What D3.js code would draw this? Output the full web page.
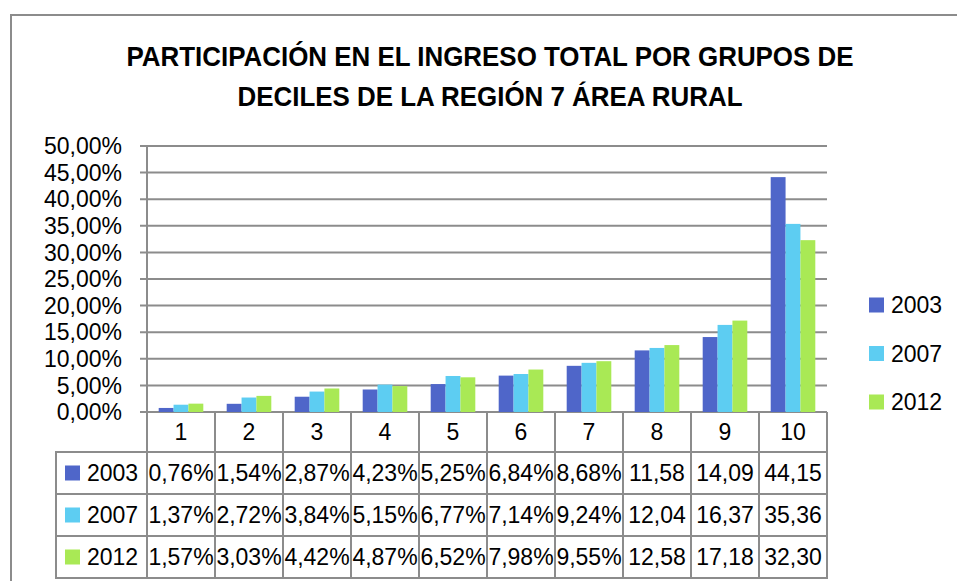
<!DOCTYPE html>
<html lang="es">
<head>
    <meta charset="UTF-8">
    <title>Participación en el ingreso</title>
    <script src="https://cdn.jsdelivr.net/npm/d3@7"></script>
    <style>
        body { margin: 0; background: #fff; }
        text { font-family: "Liberation Sans", Arial, sans-serif; fill: #000; }
    </style>
</head>
<body>
<svg width="957" height="581"></svg>
<script>
    var deciles = ["1", "2", "3", "4", "5", "6", "7", "8", "9", "10"];
    var years = ["2003", "2007", "2012"];
    var v2003 = [0.76, 1.54, 2.87, 4.23, 5.25, 6.84, 8.68, 11.58, 14.09, 44.15];
    var v2007 = [1.37, 2.72, 3.84, 5.15, 6.77, 7.14, 9.24, 12.04, 16.37, 35.36];
    var v2012 = [1.57, 3.03, 4.42, 4.87, 6.52, 7.98, 9.55, 12.58, 17.18, 32.30];
    var yTicks = [0, 5, 10, 15, 20, 25, 30, 35, 40, 45, 50];
    var titleLines = ["PARTICIPACIÓN EN EL INGRESO TOTAL POR GRUPOS DE",
                      "DECILES DE LA REGIÓN 7 ÁREA RURAL"];

    var series = [
        {year: "2003", values: v2003, color: "#4f66c9"},
        {year: "2007", values: v2007, color: "#5dcdf2"},
        {year: "2012", values: v2012, color: "#a9e955"}
    ];

    var svg = d3.select("svg");
    var grid = "#8c8c8c";

    // outer chart border (only top and left visible)
    svg.append("path")
        .attr("d", "M11,581V15H957")
        .attr("fill", "none")
        .attr("stroke", grid)
        .attr("stroke-width", 2);

    // title
    svg.selectAll(".title")
        .data(titleLines)
        .enter().append("text")
        .attr("class", "title")
        .attr("x", 490)
        .attr("y", function (d, i) { return 66 + i * 40; })
        .attr("text-anchor", "middle")
        .attr("font-size", 28)
        .attr("font-weight", "bold")
        .attr("textLength", function (d, i) { return i === 0 ? 727 : 505; })
        .attr("lengthAdjust", "spacingAndGlyphs")
        .text(function (d) { return d; });

    var pLeft = 147, pRight = 827, pTop = 146, pBottom = 412;

    var x = d3.scaleBand().domain(deciles).range([pLeft, pRight]);
    var bw = x.bandwidth();
    var x1 = d3.scaleBand().domain(years).range([bw * 0.172, bw * 0.828]);
    var y = d3.scaleLinear().domain([0, 50]).range([pBottom, pTop]);

    // gridlines + ticks
    svg.selectAll(".grid")
        .data(yTicks)
        .enter().append("line")
        .attr("x1", pLeft - 7)
        .attr("x2", pRight)
        .attr("y1", function (d) { return y(d); })
        .attr("y2", function (d) { return y(d); })
        .attr("stroke", grid)
        .attr("stroke-width", 2);

    svg.selectAll(".ylab")
        .data(yTicks)
        .enter().append("text")
        .attr("x", 122)
        .attr("y", function (d) { return y(d); })
        .attr("dy", "0.36em")
        .attr("text-anchor", "end")
        .attr("font-size", 23)
        .text(function (d) { return d.toFixed(2).replace(".", ",") + "%"; });

    // bars
    var groups = svg.selectAll(".serie")
        .data(series)
        .enter().append("g")
        .attr("fill", function (d) { return d.color; });

    groups.selectAll("rect")
        .data(function (s) {
            return s.values.map(function (v, i) { return {dec: deciles[i], year: s.year, v: v}; });
        })
        .enter().append("rect")
        .attr("x", function (d) { return x(d.dec) + x1(d.year); })
        .attr("width", x1.bandwidth())
        .attr("y", function (d) { return y(d.v); })
        .attr("height", function (d) { return y(0) - y(d.v); });

    // data table
    var rowTop = [452, 494, 536];
    var rowH = 42;
    var tableBottom = 578;
    var legLeft = 56;

    // vertical lines
    var vx = deciles.map(function (d) { return x(d); }).concat([pRight]);
    svg.selectAll(".vline")
        .data(vx)
        .enter().append("line")
        .attr("x1", function (d) { return d; })
        .attr("x2", function (d) { return d; })
        .attr("y1", function (d, i) { return i === 0 ? pTop : pBottom; })
        .attr("y2", tableBottom)
        .attr("stroke", grid)
        .attr("stroke-width", 2);

    svg.append("line")
        .attr("x1", legLeft).attr("x2", legLeft)
        .attr("y1", rowTop[0]).attr("y2", tableBottom)
        .attr("stroke", grid).attr("stroke-width", 2);

    svg.selectAll(".hline")
        .data(rowTop.concat([tableBottom]))
        .enter().append("line")
        .attr("x1", legLeft - 1)
        .attr("x2", pRight + 1)
        .attr("y1", function (d) { return d; })
        .attr("y2", function (d) { return d; })
        .attr("stroke", grid)
        .attr("stroke-width", 2);

    // category labels
    svg.selectAll(".xlab")
        .data(deciles)
        .enter().append("text")
        .attr("x", function (d) { return x(d) + bw / 2; })
        .attr("y", 432)
        .attr("dy", "0.36em")
        .attr("text-anchor", "middle")
        .attr("font-size", 23)
        .text(function (d) { return d; });

    function fmt(v) {
        // values of 10 or more lose their % sign (cell too narrow)
        return v.toFixed(2).replace(".", ",") + (v < 10 ? "%" : "");
    }

    series.forEach(function (s, r) {
        var cy = rowTop[r] + rowH / 2;
        svg.append("rect")
            .attr("x", 65).attr("y", cy - 7.5)
            .attr("width", 15).attr("height", 15)
            .attr("fill", s.color);
        svg.append("text")
            .attr("x", 87).attr("y", cy).attr("dy", "0.36em")
            .attr("font-size", 23)
            .text(s.year);
        svg.selectAll(".cell" + r)
            .data(s.values)
            .enter().append("text")
            .attr("x", function (d, i) { return x(deciles[i]) + bw / 2; })
            .attr("y", cy)
            .attr("dy", "0.36em")
            .attr("text-anchor", "middle")
            .attr("font-size", 23)
            .text(function (d) { return fmt(d); });
    });

    // legend
    var leg = svg.selectAll(".leg")
        .data(series)
        .enter().append("g")
        .attr("transform", function (d, i) { return "translate(869," + (305 + i * 48.5) + ")"; });
    leg.append("rect")
        .attr("y", -7.5).attr("width", 15).attr("height", 15)
        .attr("fill", function (d) { return d.color; });
    leg.append("text")
        .attr("x", 22).attr("dy", "0.36em")
        .attr("font-size", 23)
        .text(function (d) { return d.year; });
</script>
</body>
</html>
